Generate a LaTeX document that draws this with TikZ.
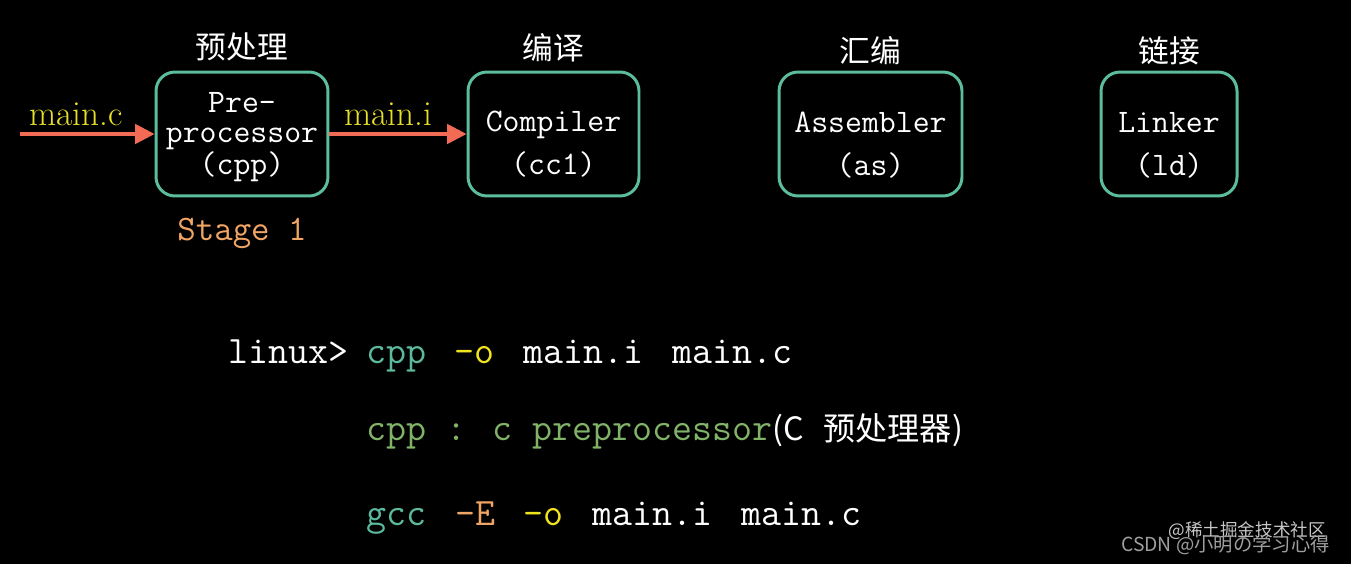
\documentclass[tikz,border=0pt]{standalone}
\usepackage{fontspec}
\usetikzlibrary{arrows.meta, positioning}
\newfontfamily\cjkfont{Noto Sans CJK SC}
\definecolor{boxteal}{RGB}{92,188,158}
\definecolor{arrowred}{RGB}{242,107,85}
\definecolor{fileyellow}{RGB}{230,224,40}
\definecolor{stageorange}{RGB}{240,165,100}
\definecolor{cmdteal}{RGB}{92,185,158}
\definecolor{cmdgreen}{RGB}{128,178,104}
\definecolor{optyellow}{RGB}{240,228,30}
\newcommand{\widespaces}{\spaceskip=16.4pt\relax}

\begin{document}
\begin{tikzpicture}[x=0.02cm, y=-0.02cm,
		stagebox/.style={draw=boxteal, line width=1.7pt, rounded corners=0.38cm, minimum height=2.48cm},
		boxtext/.style={text=white, align=center, font=\ttfamily\fontsize{18.7}{24.4}\selectfont},
		cjklabel/.style={text=white, font=\cjkfont\fontsize{17.5}{20}\selectfont},
		flow/.style={arrowred, line width=2pt, -{Triangle[length=11pt,width=11pt]}},
		filename/.style={anchor=base, text=fileyellow, font=\fontsize{20}{22}\selectfont},
		cmdline/.style={anchor=base west, text=white, font=\ttfamily\fontsize{22.1}{26}\selectfont}]
	% Background
	\fill[black] (0,0) rectangle (1351,564);
	% Stage boxes
	\node[stagebox, minimum width=3.44cm] (cpp) at (242,134) {};
	\node[stagebox, minimum width=3.42cm] (cc) at (553.5,134) {};
	\node[stagebox, minimum width=3.66cm] (as) at (870.5,134) {};
	\node[stagebox, minimum width=2.72cm] (ld) at (1169,134) {};
	% Box texts
	\node[boxtext, font=\ttfamily\fontsize{18.7}{17}\selectfont] (cpptext) at (242,137) {Pre-\\processor\\(cpp)};
	\node[boxtext] (cctext) at (553.5,144) {Compiler\\(cc1)};
	\node[boxtext] (astext) at (870.5,145) {Assembler\\(as)};
	\node[boxtext] (ldtext) at (1169,145) {Linker\\(ld)};
	% Stage names
	\node[cjklabel] (cpplabel) at (242,47) {预处理};
	\node[cjklabel] (cclabel) at (553.5,48) {编译};
	\node[cjklabel] (aslabel) at (870.5,51) {汇编};
	\node[cjklabel] (ldlabel) at (1169,51) {链接};
	\node[text=stageorange, font=\ttfamily\fontsize{20.4}{24}\selectfont] (stage) at (242,233) {Stage 1};
	% Files between stages
	\coordinate (src) at (20,134);
	\draw[flow] (src) -- (cpp.west);
	\draw[flow] (cpp.east) -- (cc.west);
	\node[filename] (mainc) at (76,126) {main.c};
	\node[filename] (maini) at (388,126) {main.i};
	% Commands
	\node[cmdline] (cmd1) at (222.5,363) {\widespaces linux>\hspace{9.9pt}\textcolor{cmdteal}{cpp} \textcolor{optyellow}{-o} main.i main.c};
	\node[cmdline] (cmd2) at (360,440) {\textcolor{cmdgreen}{cpp : c preprocessor}{\cjkfont\fontsize{18.3}{20}\selectfont(C\hspace{11pt}预处理器)}};
	\node[cmdline] (cmd3) at (360,525) {\widespaces\textcolor{cmdteal}{gcc} \textcolor{stageorange}{-E} \textcolor{optyellow}{-o} main.i main.c};
	% Watermarks
	\node[anchor=east, text=gray!45, font=\cjkfont\fontsize{10}{12}\selectfont] (mark1) at (1332,531) {@稀土掘金技术社区};
	\node[anchor=east, text=gray!75, font=\cjkfont\fontsize{11}{13}\selectfont] (mark2) at (1336,545) {CSDN @小明の学习心得};
\end{tikzpicture}
\end{document}
